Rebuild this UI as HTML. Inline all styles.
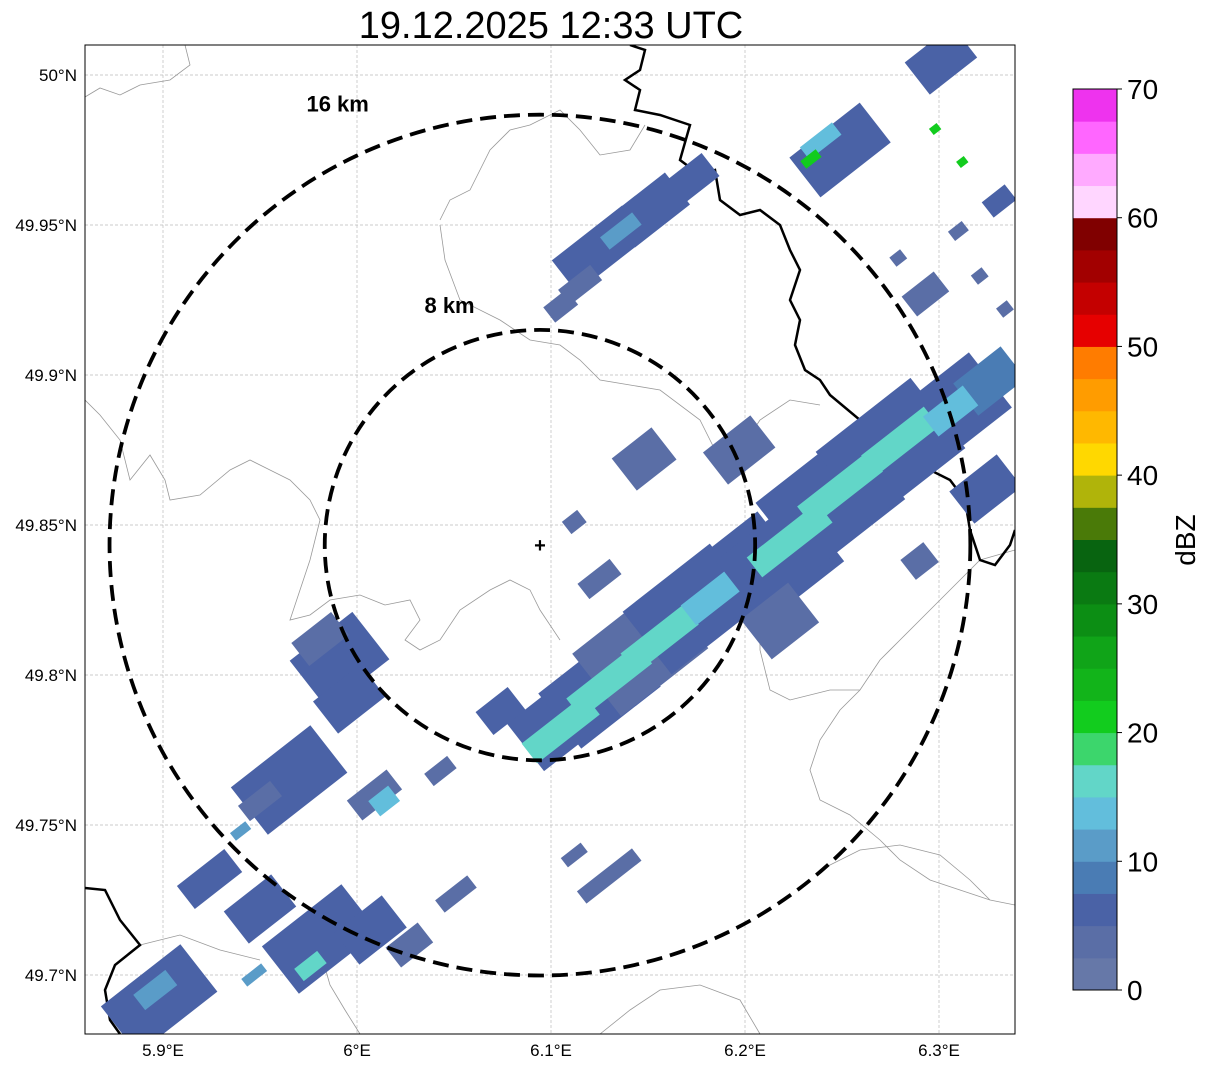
<!DOCTYPE html>
<html><head><meta charset="utf-8"><style>
body{margin:0;background:#fff;}
svg{display:block;font-family:"Liberation Sans",sans-serif;}
</style></head><body>
<svg id="chart" width="1207" height="1069" viewBox="0 0 1207 1069">
<defs><clipPath id="mapclip"><rect x="85" y="45" width="930" height="989"/></clipPath></defs>
<text x="551" y="38" text-anchor="middle" font-size="38">19.12.2025 12:33 UTC</text>
<g id="grid"></g>
<g clip-path="url(#mapclip)">
 <g id="borders" fill="none">
  <path d="M85,97 L100,88 L120,95 L140,85 L170,80 L190,65 L185,45" stroke="#999" stroke-width="0.8"/>
  <path d="M85,400 L100,415 L120,440 L130,480 L150,455 L165,480 L170,500 L200,495 L230,470 L250,460 L270,470 L290,480 L310,500 L320,520 L310,560 L300,590 L290,620 L310,615 L330,600 L360,595 L385,605 L410,600 L420,620 L405,640 L420,650 L440,640 L460,610 L490,590 L510,580 L530,590 L540,610 L560,640" stroke="#999" stroke-width="0.8"/>
  <path d="M440,220 L450,200 L470,190 L490,150 L510,130 L530,125 L560,110 L580,130 L600,155 L630,150 L645,125" stroke="#999" stroke-width="0.8"/>
  <path d="M440,225 L445,260 L460,300 L500,320 L530,340 L560,345 L580,360 L600,380 L630,385 L660,390 L700,420 L720,460 L740,450 L760,420 L790,400 L820,405" stroke="#999" stroke-width="0.8"/>
  <path d="M1015,550 L980,560 L960,580 L940,600 L920,620 L900,640 L880,660 L860,690 L840,710 L820,740 L810,770 L820,800 L850,815 L880,840 L900,860 L930,880 L960,890 L990,900 L1015,905" stroke="#999" stroke-width="0.8"/>
  <path d="M745,580 L760,610 L760,650 L770,690 L790,700 L830,690 L860,690" stroke="#999" stroke-width="0.8"/>
  <path d="M320,950 L330,985 L345,1010 L360,1034" stroke="#999" stroke-width="0.8"/>
  <path d="M140,945 L180,935 L220,950 L260,960" stroke="#999" stroke-width="0.8"/>
  <path d="M600,1034 L630,1010 L660,990 L700,985 L740,1000 L760,1034" stroke="#999" stroke-width="0.8"/>
  <path d="M820,870 L860,850 L900,845 L940,855 L970,880 L990,900" stroke="#999" stroke-width="0.8"/>
  <path d="M630,45 L645,50 L640,70 L625,80 L640,90 L635,110 L660,115 L690,125 L680,160 L700,175 L715,170 L720,200 L740,215 L760,210 L780,225 L790,250 L800,270 L790,300 L800,320 L795,345 L805,370 L820,380 L830,395 L860,420 L880,440 L905,450 L930,470 L950,480 L965,500 L970,530 L980,560 L995,565 L1010,545 L1015,530" stroke="#000" stroke-width="2.5"/>
  <path d="M85,888 L105,890 L120,920 L140,945 L115,965 L105,990 L110,1020 L120,1034" stroke="#000" stroke-width="2.5"/>
 </g>
 <g id="cells"></g>
 <g id="rings"></g>
</g>
<rect x="85" y="45" width="930" height="989" fill="none" stroke="#000" stroke-width="1"/>
<g id="axes" font-size="17"></g>
<g id="cbar"></g>
</svg>
<script>
const lonTicks=[5.9,6.0,6.1,6.2,6.3];
const lonLabels=["5.9°E","6°E","6.1°E","6.2°E","6.3°E"];
const latTicks=[50.0,49.95,49.9,49.85,49.8,49.75,49.7];
const latLabels=["50°N","49.95°N","49.9°N","49.85°N","49.8°N","49.75°N","49.7°N"];
const radarLon=[6.0943];const radarLat=[49.8433];
const ringKm=[8,16];
const cellLon=[6.105,6.125,6.146,6.172,6.197,6.105,6.130,6.156,6.187,6.218,6.244,6.275,6.306,6.326,6.223,6.249,6.280,6.306,6.218,6.197,6.148,6.112,6.125,6.125,6.151,6.172,6.136,6.115,6.249,6.239,6.234,6.301,6.298,6.312,6.331,6.310,6.279,6.321,6.293,6.334,6.290,6.324,5.991,5.981,5.996,5.965,5.950,6.009,6.014,6.043,5.924,5.950,5.981,5.976,6.007,6.027,6.051,5.898,5.896,5.947,6.130,6.112,5.940,6.105,6.074];
const cellLat=[49.785,49.795,49.808,49.822,49.835,49.782,49.798,49.812,49.828,49.838,49.858,49.875,49.888,49.898,49.845,49.862,49.878,49.888,49.818,49.875,49.872,49.851,49.832,49.942,49.955,49.965,49.948,49.930,49.975,49.978,49.972,50.005,49.982,49.971,49.958,49.948,49.939,49.933,49.927,49.922,49.838,49.862,49.805,49.812,49.792,49.765,49.758,49.760,49.758,49.768,49.732,49.722,49.712,49.703,49.715,49.710,49.727,49.692,49.695,49.700,49.733,49.740,49.748,49.923,49.788];
const cellDbz=[6,5,4,5,5,15,17,15,14,5,5,6,5,8,15,17,15,14,4,4,4,4,4,5,6,5,12,4,5,14,20,5,22,22,5,4,4,4,4,4,4,5,5,4,5,5,4,4,14,4,5,5,5,17,5,4,4,5,12,12,4,4,12,4,5];
const cellLenKm=[4.6,5.2,5.7,5.7,5.2,4.1,4.6,4.1,4.1,5.2,6.2,6.2,5.2,3.1,4.6,4.6,4.1,2.6,3.1,3.1,2.6,1.0,2.1,4.6,3.6,2.6,2.1,2.1,4.6,2.1,1.0,3.1,0.5,0.5,1.5,0.9,0.7,0.7,2.1,0.7,1.5,3.1,4.1,2.6,3.1,5.2,2.1,2.6,1.3,1.5,3.1,3.1,5.2,1.5,3.1,2.1,2.1,5.2,2.1,1.3,3.6,1.3,1.0,1.5,2.1];
const cellWidKm=[3.1,3.6,4.1,4.1,3.6,1.3,1.3,1.3,1.3,4.1,4.6,4.6,3.6,2.1,1.3,1.3,1.3,1.3,2.6,2.1,2.1,0.8,1.0,2.1,2.1,1.5,0.8,1.0,2.6,0.8,0.5,2.1,0.4,0.4,1.0,0.6,0.6,0.6,1.3,0.6,1.3,2.1,3.1,1.5,2.1,3.1,1.0,1.3,1.0,0.8,1.5,2.1,3.1,0.8,2.1,1.3,0.8,3.1,1.0,0.5,0.8,0.6,0.5,1.0,1.5];
const cbColors=["#6678a8","#5a6ea6","#4a62a6","#4a7cb4","#5a9cc8","#62bedc","#62d6c8","#3cd66c","#12cc1e","#12b41a","#10a418","#0c8e14","#0a7a12","#086410","#4a7a08","#b0b40a","#ffd800","#ffb800","#ff9c00","#ff7c00","#e60000","#c40000","#a20000","#800000","#ffd6ff","#ffaaff","#ff66ff","#ee33ee"];
const cbTicks=[0,10,20,30,40,50,60,70];
const NS="http://www.w3.org/2000/svg";
const X=lon=>163+(lon-5.9)*1940;
const Y=lat=>75+(50-lat)*3000;
const PXKM=19.4;
const RINGPX=26.9;
function mk(tag,attrs,parent){const e=document.createElementNS(NS,tag);for(const k in attrs)e.setAttribute(k,attrs[k]);parent.appendChild(e);return e;}
const grid=document.getElementById('grid'),axes=document.getElementById('axes');
lonTicks.forEach((v,i)=>{
 const l=mk('line',{x1:X(v),x2:X(v),y1:45,y2:1034,stroke:'#bbb','stroke-width':0.7,'stroke-dasharray':'3,2'},grid);
 
 
 const t=mk('text',{x:X(v),y:1056,'text-anchor':'middle'},axes);t.textContent=lonLabels[i];
 
 
});
latTicks.forEach((v,i)=>{
 const l=mk('line',{x1:85,x2:1015,y1:Y(v),y2:Y(v),stroke:'#bbb','stroke-width':0.7,'stroke-dasharray':'3,2'},grid);
 
 
 const t=mk('text',{x:77,y:Y(v)+6,'text-anchor':'end'},axes);t.textContent=latLabels[i];
 
 
});
function colorFor(d){return cbColors[Math.max(0,Math.min(27,Math.floor(d/2.5)))];}
const cells=document.getElementById('cells');
cellLon.forEach((lon,i)=>{
 const cx=X(lon),cy=Y(cellLat[i]),w=cellLenKm[i]*PXKM,h=cellWidKm[i]*PXKM;
 const r=mk('rect',{x:cx-w/2,y:cy-h/2,width:w,height:h,fill:colorFor(cellDbz[i]),transform:`rotate(-38 ${cx} ${cy})`},cells);
 
 
});
const rings=document.getElementById('rings');
const rx=X(radarLon[0]),ry=Y(radarLat[0]);
ringKm.forEach(km=>{
 const rr=km*RINGPX;
 const c=mk('circle',{cx:rx,cy:ry,r:rr,fill:'none',stroke:'#000','stroke-width':3.8,'stroke-dasharray':'16,8'},rings);
 
 
 const t=mk('text',{x:rx-rr*(km==8?0.42:0.47),y:ry-rr-(km==8?17:3),'text-anchor':'middle','font-size':22,'font-weight':'bold'},rings);
 t.textContent=km+' km';
 
 
});
const m=mk('text',{x:rx,y:ry+7,'text-anchor':'middle','font-size':20,'font-weight':'bold'},rings);m.textContent='+';


const cb=document.getElementById('cbar');
const cbTop=89,cbBot=990,cbH=(cbBot-cbTop)/cbColors.length;
cbColors.forEach((c,i)=>{
 const r=mk('rect',{x:1073,y:cbBot-(i+1)*cbH,width:44,height:cbH+0.5,fill:c},cb);
 
 
});
mk('rect',{x:1073,y:cbTop,width:44,height:cbBot-cbTop,fill:'none',stroke:'#000','stroke-width':1},cb);
cbTicks.forEach(v=>{
 const y=cbBot-v/70*(cbBot-cbTop);
 mk('line',{x1:1117,x2:1122,y1:y,y2:y,stroke:'#000'},cb);
 const t=mk('text',{x:1127,y:y+10,'font-size':28},cb);t.textContent=v;
 
 
});
const lab=mk('text',{x:1195,y:540,'font-size':28,'text-anchor':'middle',transform:'rotate(-90 1195 540)'},cb);lab.textContent='dBZ';


</script>
</body></html>
